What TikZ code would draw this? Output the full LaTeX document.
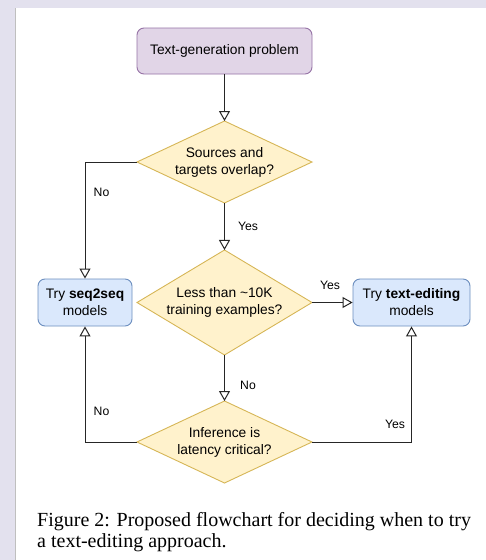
\documentclass[tikz,border=0pt]{standalone}
\usepackage{fontspec}
\setmainfont{Liberation Serif}
\newfontfamily\arialf{Liberation Sans}
\usetikzlibrary{shapes.geometric,arrows.meta}
\definecolor{bgcol}{HTML}{E3E1EE}
\definecolor{purpfill}{HTML}{E1D5E7}
\definecolor{purpline}{HTML}{9673A6}
\definecolor{yelfill}{HTML}{FFF2CC}
\definecolor{yelline}{HTML}{D6B656}
\definecolor{bluefill}{HTML}{DAE8FC}
\definecolor{blueline}{HTML}{6C8EBF}
\definecolor{linecol}{HTML}{262626}
\begin{document}
\begin{tikzpicture}[x=1pt,y=-1pt,
  nodetext/.style={font=\arialf\fontsize{13.8}{17}\selectfont, align=center},
  startbox/.style={nodetext, draw=purpline, fill=purpfill, rounded corners=7pt, line width=0.9pt, minimum width=175pt, minimum height=46pt, inner sep=0pt},
  resbox/.style={nodetext, draw=blueline, fill=bluefill, rounded corners=7pt, line width=0.9pt, minimum height=47pt, inner sep=0pt},
  decision/.style={diamond, draw=yelline, fill=yelfill, line width=0.9pt, inner sep=0pt, outer sep=0pt, minimum width=175pt},
  conn/.style={draw=linecol, line width=1.0pt, -{Triangle[open, length=10pt, width=11pt, line width=1pt]}},
  elabel/.style={font=\arialf\fontsize{12.2}{14}\selectfont, inner sep=0pt},
]
\useasboundingbox (0,0) rectangle (486,560);
\fill[bgcol] (0,0) rectangle (486,560);
\fill[white] (15,8) rectangle (486,560);
\draw[black!25, line width=1.2pt] (15.6,8) -- (15.6,560);

\node[startbox] (start) at (224.5,51) {Text-generation problem};
\node[decision, minimum height=82pt,
  label={[nodetext]center:{Sources and\\targets overlap?}}] (d1) at (224.5,162) {};
\node[decision, minimum height=105pt,
  label={[nodetext]center:{Less than \textasciitilde 10K\\training examples?}}] (d2) at (224.5,302.5) {};
\node[decision, minimum height=82pt,
  label={[nodetext]center:{Inference is\\latency critical?}}] (d3) at (224.5,442) {};
\node[resbox, minimum width=94pt] (seq) at (85,302.5) {Try \textbf{seq2seq}\\models};
\node[resbox, minimum width=117pt] (te) at (411.5,302.5) {Try \textbf{text-editing}\\models};

\draw[conn] (start) -- (d1);
\draw[conn] (d1) -- (d2);
\draw[conn] (d2) -- (te);
\draw[conn] (d2) -- (d3);
\draw[conn] (d1.west) -| (seq.north);
\draw[conn] (d3.west) -| (seq.south);
\draw[conn] (d3.east) -| (te.south);

\node[elabel] (l1) at (101.5,192) {No};
\node[elabel] (l2) at (248,226) {Yes};
\node[elabel] (l3) at (330,285) {Yes};
\node[elabel] (l4) at (248,385) {No};
\node[elabel] (l5) at (101.5,411) {No};
\node[elabel] (l6) at (395,424) {Yes};

\node[font=\fontsize{20}{21}\selectfont, align=left, anchor=base west, inner sep=0pt] (cap) at (37,547)
  {Figure 2: Proposed flowchart for deciding when to try\\a text-editing approach.};
\end{tikzpicture}
\end{document}
